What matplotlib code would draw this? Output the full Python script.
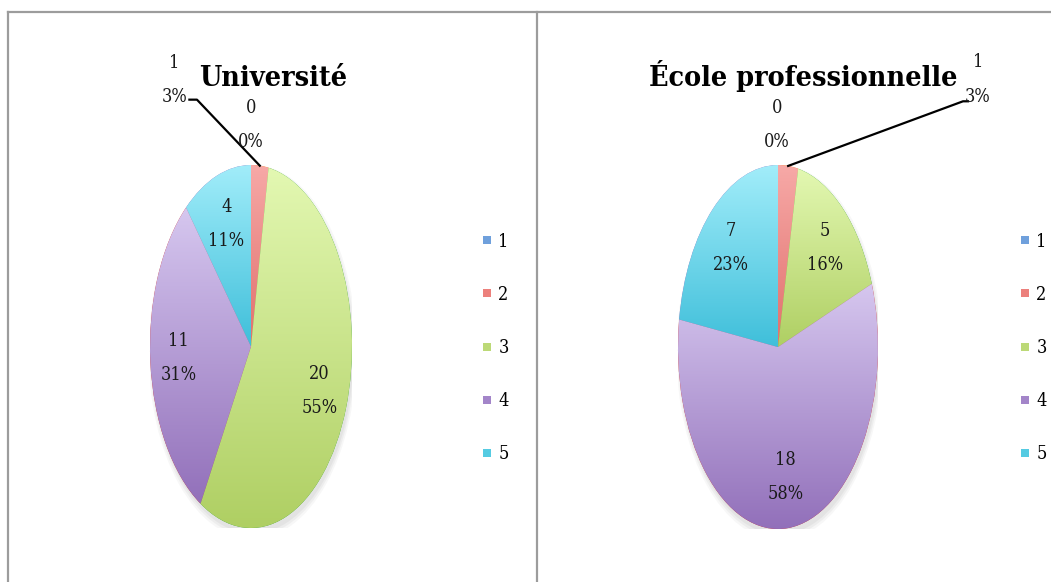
import numpy as np
import matplotlib
matplotlib.use('Agg')
import matplotlib.pyplot as plt
from matplotlib.lines import Line2D
from matplotlib.patches import Ellipse
from matplotlib.colors import to_rgb

# data
categories = ['1', '2', '3', '4', '5']
uni_values = [0, 1, 20, 11, 4]
uni_pct = [0, 3, 55, 31, 11]
ecole_values = [0, 1, 5, 18, 7]
ecole_pct = [0, 3, 16, 58, 23]
titles = ['Université', 'École professionnelle']

# light (top) -> dark (bottom) gradient for each category
grad_top = ['#8DB8E8', '#F7A9A7', '#E3F8B2', '#D6C7EF', '#A2EDFA']
grad_bot = ['#5A8ED0', '#E0706C', '#AFCF63', '#9270BA', '#3FBFDA']
legend_cols = ['#6FA0DC', '#EC807C', '#BCD977', '#A385C9', '#55CBE2']

FONT = 'DejaVu Serif'
W, H = 1051, 582

fig = plt.figure(figsize=(W / 100, H / 100), dpi=100)
fig.patch.set_facecolor('white')

def fx(px):
    return px / W

def fy(py):
    return 1 - py / H

# frame lines of the two Excel chart areas
for xs, ys in [((8, W), (12, 12)), ((8, 8), (12, H)), ((537, 537), (12, H))]:
    fig.add_artist(Line2D([fx(x) for x in xs], [fy(y) for y in ys],
                         color='#9c9c9c', lw=1.6))


def draw_pie(box, values, pct, title, title_x, zero_pos, one_pos, tail):
    left, top, right, bottom = box
    ax = fig.add_axes([fx(left), fy(bottom), fx(right - left), (bottom - top) / H])
    # soft shadow
    for k, a in enumerate([0.06, 0.07, 0.08]):
        ax.add_patch(Ellipse((0.015, -0.03), 2.0 + 0.03 * (2 - k), 2.0 + 0.03 * (2 - k),
                             facecolor='#777777', alpha=a, lw=0, zorder=0))
    wedges, _ = ax.pie(values, startangle=90, counterclock=False, radius=1,
                       wedgeprops=dict(linewidth=0))
    for i, w in enumerate(wedges):
        w.set_zorder(1)
        if values[i] == 0:
            continue
        ext = w.get_path().get_extents()
        c0 = np.array(to_rgb(grad_top[i]))
        c1 = np.array(to_rgb(grad_bot[i]))
        t = np.linspace(0, 1, 200)[:, None]
        img = (c0 * (1 - t) + c1 * t)[:, None, :]
        im = ax.imshow(img, extent=(ext.x0, ext.x1, ext.y0, ext.y1), origin='upper',
                       aspect='auto', zorder=2, interpolation='bilinear')
        im.set_clip_path(w)
    ax.set_aspect('auto')
    ax.set_xlim(-1, 1)
    ax.set_ylim(-1, 1)
    ax.axis('off')

    # data labels
    for i, w in enumerate(wedges):
        mid = np.deg2rad((w.theta1 + w.theta2) / 2)
        txt = f'{values[i]}\n{pct[i]}%'
        if values[i] == 0:
            x, y = zero_pos
        elif i == 1:
            x, y = one_pos
            ex, ey = np.cos(mid), np.sin(mid)
            ax.plot([ex, tail[0], tail[1]], [ey, tail[2], tail[2]], color='black',
                    lw=1.6, clip_on=False, zorder=5)
        else:
            x, y = 0.72 * np.cos(mid), 0.72 * np.sin(mid)
        ax.text(x, y, txt, ha='center', va='center', fontsize=13, family=FONT,
                fontstretch='condensed', linespacing=2.15, color='#1a1a1a', zorder=6)

    fig.text(fx(title_x), fy(86), title, ha='center', va='baseline', fontsize=20.5,
             family=FONT, fontstretch='condensed', fontweight='bold')
    return wedges


draw_pie((150, 165, 352, 528), uni_values, uni_pct, titles[0], 273,
         (0.0, 1.22), (-0.76, 1.47), (-0.535, -0.61, 1.36))
draw_pie((678, 165, 878, 529), ecole_values, ecole_pct, titles[1], 803,
         (-0.01, 1.22), (2.0, 1.47), (1.85, 1.90, 1.35))

# legends
handles = [Line2D([], [], marker='s', ls='none', markersize=5.5, color=c, markeredgewidth=0)
           for c in legend_cols]
for lx in (482, 1020):
    fig.legend(handles, categories, loc='center left', bbox_to_anchor=(fx(lx), fy(348)),
               frameon=False, borderpad=0, borderaxespad=0, handlelength=0.6,
               handletextpad=0.3, labelspacing=1.95,
               prop=dict(family=FONT, stretch='condensed', size=13))

fig.savefig('out.png', dpi=100, facecolor='white')
